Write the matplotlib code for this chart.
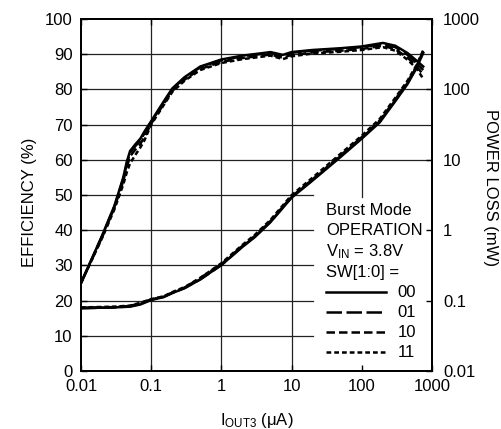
import matplotlib
matplotlib.use("Agg")
import matplotlib.pyplot as plt
from matplotlib.lines import Line2D
from matplotlib.ticker import NullLocator, FixedLocator

plt.rcParams["font.family"] = ["Liberation Sans", "DejaVu Sans"]
plt.rcParams["font.size"] = 12
plt.rcParams["mathtext.default"] = "regular"

# efficiency (%) vs IOUT3 (uA), one curve per SW[1:0] setting
eff_x = [0.01, 0.02, 0.03, 0.04, 0.045, 0.05, 0.06, 0.07, 0.08, 0.1, 0.15, 0.2, 0.3, 0.5,
         1, 2, 3.5, 5, 7.5, 10, 20, 50, 100, 200, 300, 450, 600, 750]
eff_00 = [25, 38.5, 47, 55, 59.5, 62.5, 64.5, 66, 68, 71, 76.5, 80.3, 83.5, 86.5,
          88.5, 89.6, 90.2, 90.6, 89.8, 90.6, 91.2, 91.7, 92.2, 93.2, 92.4, 90.3, 88.2, 86.5]
eff_01 = [25, 38.3, 46.8, 54.5, 59, 62, 64, 65.5, 67.5, 70.7, 76.2, 80.1, 83.3, 86.3,
          88.3, 89.4, 90, 90.4, 89.6, 90.4, 91, 91.5, 92, 92.9, 92, 89.8, 87.5, 85.5]
eff_10 = [25, 38, 46.5, 54, 58, 61, 63, 64.5, 66.5, 70.3, 75.8, 79.6, 82.8, 85.8,
          87.8, 88.9, 89.5, 89.9, 89, 89.8, 90.5, 91, 91.5, 92.4, 91.4, 89, 86.6, 84.2]
eff_11 = [25, 37.8, 46, 53, 56.5, 59, 61.5, 63.5, 65.5, 70, 75.5, 79.3, 82.5, 85.5,
          87.5, 88.6, 89.2, 89.6, 88.6, 89.4, 90.2, 90.7, 91.2, 92, 91, 88.4, 86, 83]

# power loss (mW) vs IOUT3 (uA)
pl_x = [0.01, 0.03, 0.05, 0.07, 0.1, 0.15, 0.2, 0.3, 0.5, 1, 2, 3, 5, 10,
        20, 50, 100, 180, 300, 450, 600, 750]
pl_00 = [0.078, 0.080, 0.082, 0.088, 0.102, 0.112, 0.128, 0.150, 0.20, 0.32, 0.58, 0.80, 1.30, 2.90,
         5.1, 11.0, 20, 34, 68, 120, 200, 330]
pl_01 = [0.078, 0.080, 0.083, 0.090, 0.103, 0.113, 0.129, 0.152, 0.20, 0.32, 0.59, 0.81, 1.32, 2.95,
         5.2, 11.3, 20.5, 35, 70, 124, 206, 340]
pl_10 = [0.079, 0.081, 0.084, 0.092, 0.104, 0.114, 0.130, 0.153, 0.21, 0.33, 0.60, 0.83, 1.35, 3.0,
         5.3, 11.6, 21, 36, 72, 128, 212, 350]
pl_11 = [0.080, 0.082, 0.085, 0.093, 0.105, 0.115, 0.132, 0.156, 0.21, 0.34, 0.62, 0.86, 1.40, 3.15,
         5.6, 12.2, 22, 38, 76, 134, 220, 360]

codes = ["00", "01", "10", "11"]
styles = ["-", (0, (6.2, 1.8)), (0, (3.4, 1.6)), (0, (1.9, 1.2))]
eff_curves = [eff_00, eff_01, eff_10, eff_11]
pl_curves = [pl_00, pl_01, pl_10, pl_11]

eff_ticks = list(range(0, 101, 10))
pl_ticks = [0.01, 0.1, 1, 10, 100, 1000]
x_ticks = [0.01, 0.1, 1, 10, 100, 1000]
x_labels = ["0.01", "0.1", "1", "10", "100", "1000"]
pl_labels = ["0.01", "0.1", "1", "10", "100", "1000"]

fig = plt.figure(figsize=(5.01, 4.29), dpi=100)
ax = fig.add_axes([81 / 501, 58 / 429, 351 / 501, 352 / 429])
ax.set_xscale("log")
ax.set_xlim(0.01, 1000)
ax.set_ylim(0, 100)

# grid, cut back where the legend sits
for v in eff_ticks[1:-1]:
    ax.axhline(v, xmax=0.661 if v <= 50 else 1, color="#222222", lw=0.9, zorder=1)
for v in x_ticks[1:-1]:
    ax.axvline(v, ymin=0.494 if v == 100 else 0, color="#222222", lw=0.9, zorder=1)

for y, ls in zip(eff_curves, styles):
    ax.plot(eff_x, y, color="black", lw=1.8, ls=ls, zorder=3)

ax.xaxis.set_major_locator(FixedLocator(x_ticks))
ax.xaxis.set_minor_locator(NullLocator())
ax.set_xticklabels(x_labels)
ax.set_yticks(eff_ticks)
ax.tick_params(direction="in", length=4, width=1, top=True, right=True, pad=6)
ax.tick_params(axis="x", pad=6)
for s in ax.spines.values():
    s.set_linewidth(1.3)

ax.set_xlabel(r"I$_{OUT3}$ ($\mu$A)")
ax.xaxis.set_label_coords(0.501, -0.113)
ax.set_ylabel("EFFICIENCY (%)")
ax.yaxis.set_label_coords(-0.125, 0.48)

ax2 = ax.twinx()
ax2.set_yscale("log")
ax2.set_ylim(0.01, 1000)
for y, ls in zip(pl_curves, styles):
    ax2.plot(pl_x, y, color="black", lw=1.8, ls=ls, zorder=3)
ax2.yaxis.set_major_locator(FixedLocator(pl_ticks))
ax2.yaxis.set_minor_locator(NullLocator())
ax2.set_yticklabels(pl_labels)
ax2.tick_params(direction="in", length=4, width=1, pad=8)
ax2.set_ylabel("POWER LOSS (mW)", rotation=270, va="center")
ax2.yaxis.set_label_coords(1.168, 0.52)
for s in ax2.spines.values():
    s.set_linewidth(1.3)

handles = [Line2D([], [], color="black", lw=1.8, ls=ls) for ls in styles]
leg = ax2.legend(handles, codes, loc="lower left", bbox_to_anchor=(0.698, 0.03),
                 frameon=False, borderpad=0, borderaxespad=0,
                 title="Burst Mode\nOPERATION\n$V_{IN}$ = 3.8V\nSW[1:0] =",
                 alignment="left", handlelength=3.6, handletextpad=0.7,
                 labelspacing=0.3, fontsize=12, title_fontsize=12)
leg.get_title().set_linespacing(1.35)

fig.savefig("out.png", dpi=100)
